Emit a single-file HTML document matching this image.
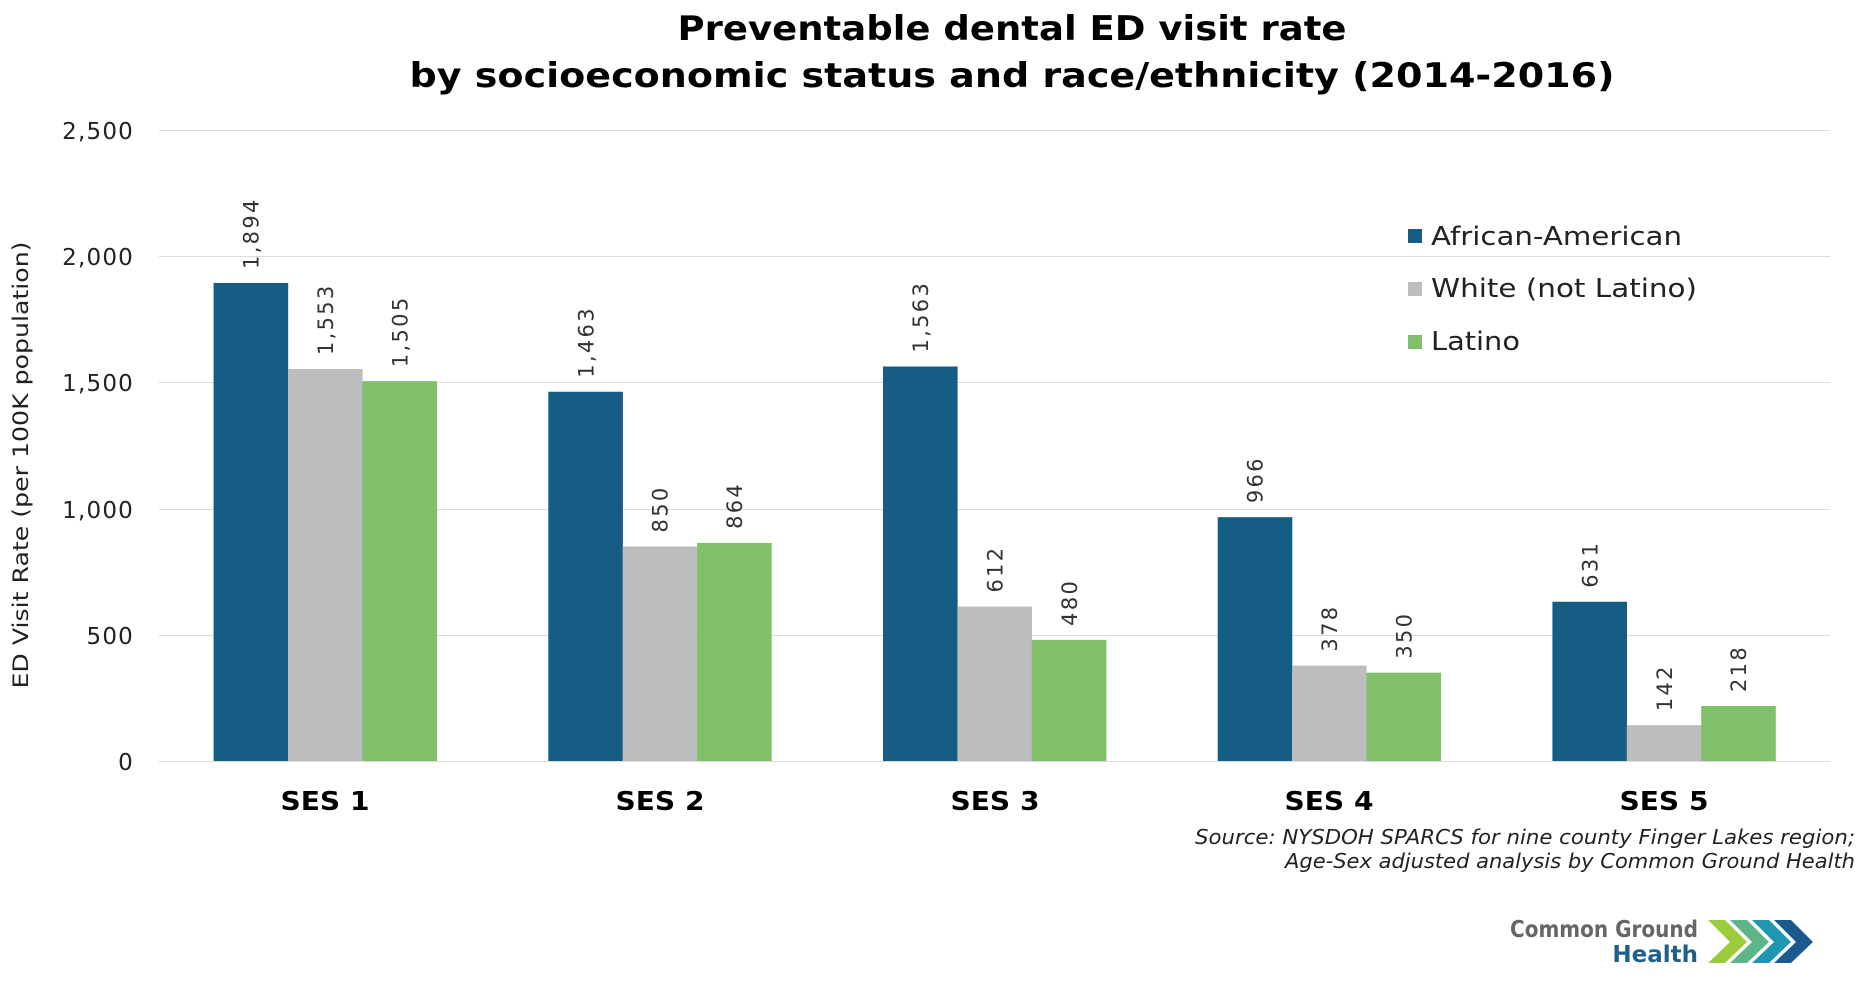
<!DOCTYPE html>
<html><head><meta charset="utf-8"><style>
html,body{margin:0;padding:0;background:#fff;}
svg{display:block;}
text{font-family:"DejaVu Sans","Liberation Sans",sans-serif;}
</style></head><body>
<svg width="1871" height="993" viewBox="0 0 1871 993" xmlns="http://www.w3.org/2000/svg">
<rect width="1871" height="993" fill="#fff"/>
<text x="1012" y="40" font-size="34" font-weight="bold" text-anchor="middle" fill="#000" textLength="669" lengthAdjust="spacingAndGlyphs">Preventable dental ED visit rate</text>
<text x="1012" y="87" font-size="34" font-weight="bold" text-anchor="middle" fill="#000" textLength="1205" lengthAdjust="spacingAndGlyphs">by socioeconomic status and race/ethnicity (2014-2016)</text>
<g stroke="#dcdcdc" stroke-width="1">
<line x1="159" y1="130.5" x2="1830" y2="130.5"/>
<line x1="159" y1="256.5" x2="1830" y2="256.5"/>
<line x1="159" y1="382.5" x2="1830" y2="382.5"/>
<line x1="159" y1="509.5" x2="1830" y2="509.5"/>
<line x1="159" y1="635.5" x2="1830" y2="635.5"/>
<line x1="159" y1="761.5" x2="1830" y2="761.5"/>
</g>
<g font-size="23" fill="#222" text-anchor="end" letter-spacing="1.2">
<text x="134" y="139">2,500</text>
<text x="134" y="265">2,000</text>
<text x="134" y="391">1,500</text>
<text x="134" y="518">1,000</text>
<text x="134" y="644">500</text>
<text x="134" y="770">0</text>
</g>
<text transform="translate(28,465) rotate(-90)" font-size="21" text-anchor="middle" fill="#222" textLength="447" lengthAdjust="spacingAndGlyphs">ED Visit Rate (per 100K population)</text>
<g id="bars"></g>
<g font-size="26" font-weight="bold" text-anchor="middle" fill="#000">
<text x="325" y="810" textLength="89" lengthAdjust="spacingAndGlyphs">SES 1</text>
<text x="660" y="810" textLength="89" lengthAdjust="spacingAndGlyphs">SES 2</text>
<text x="995" y="810" textLength="89" lengthAdjust="spacingAndGlyphs">SES 3</text>
<text x="1329" y="810" textLength="89" lengthAdjust="spacingAndGlyphs">SES 4</text>
<text x="1664" y="810" textLength="89" lengthAdjust="spacingAndGlyphs">SES 5</text>
</g>
<rect x="1408" y="229" width="14" height="14" fill="#155d85"/>
<rect x="1408" y="282" width="14" height="14" fill="#bcbdbf"/>
<rect x="1408" y="335" width="14" height="14" fill="#82bf6b"/>
<g font-size="26" fill="#222">
<text x="1431" y="245" textLength="251" lengthAdjust="spacingAndGlyphs">African-American</text>
<text x="1431" y="297" textLength="266" lengthAdjust="spacingAndGlyphs">White (not Latino)</text>
<text x="1431" y="350" textLength="89" lengthAdjust="spacingAndGlyphs">Latino</text>
</g>
<g font-size="20" font-style="italic" text-anchor="end" fill="#222">
<text x="1855" y="844" textLength="660" lengthAdjust="spacingAndGlyphs">Source: NYSDOH SPARCS for nine county Finger Lakes region;</text>
<text x="1855" y="868" textLength="570" lengthAdjust="spacingAndGlyphs">Age-Sex adjusted analysis by Common Ground Health</text>
</g>
<text x="1698" y="937" font-family="Liberation Sans,sans-serif" font-size="23" font-weight="bold" text-anchor="end" fill="#666" textLength="188" lengthAdjust="spacingAndGlyphs">Common Ground</text>
<text x="1698" y="962" font-family="Liberation Sans,sans-serif" font-size="23" font-weight="bold" text-anchor="end" fill="#1f5f8b">Health</text>
<g>
<polygon points="1708,920 1725,920 1747,942 1725,963 1708,963 1730,942" fill="#9ccb3b"/>
<polygon points="1730,920 1747,920 1769,942 1747,963 1730,963 1752,942" fill="#5fb58a"/>
<polygon points="1752,920 1769,920 1791,942 1769,963 1752,963 1774,942" fill="#1f97b0"/>
<polygon points="1774,920 1791,920 1813,942 1791,963 1774,963 1796,942" fill="#1b5a8f"/>
</g>
<script>
var d=[[1894,1553,1505],[1463,850,864],[1563,612,480],[966,378,350],[631,142,218]];
var c=["#155d85","#bcbdbf","#82bf6b"];var g=document.getElementById("bars");var ns="http://www.w3.org/2000/svg";
for(var i=0;i<5;i++)for(var j=0;j<3;j++){var v=d[i][j];var x=213.6+334.7*i+74.4*j;var h=v*0.2524;var y=761-h;
var r=document.createElementNS(ns,"rect");r.setAttribute("x",x);r.setAttribute("y",y);r.setAttribute("width",74.6);r.setAttribute("height",h);r.setAttribute("fill",c[j]);g.appendChild(r);
var t=document.createElementNS(ns,"text");t.setAttribute("transform","translate("+(x+45)+","+(y-14)+") rotate(-90)");t.setAttribute("font-size","21");t.setAttribute("letter-spacing","2.3");t.setAttribute("fill","#333");t.textContent=v.toLocaleString("en-US");g.appendChild(t);}
</script>
</svg>
</body></html>
